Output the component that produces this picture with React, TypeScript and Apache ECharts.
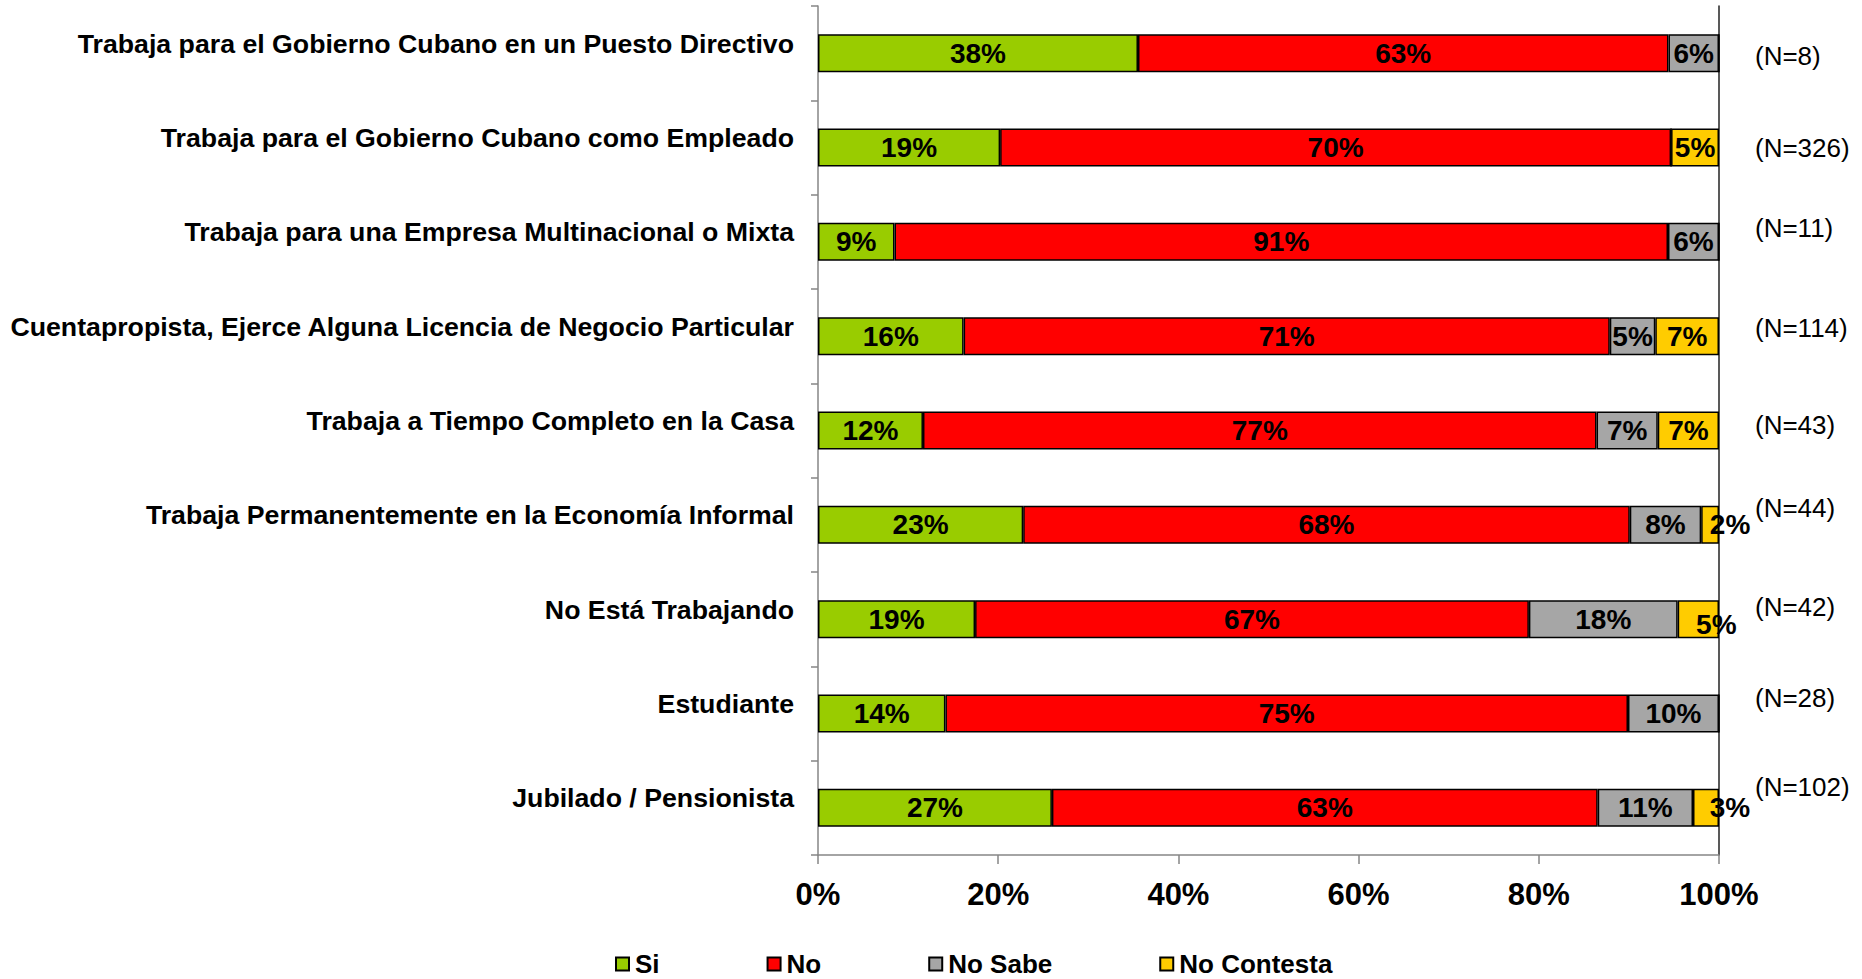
import React, { useEffect, useRef } from "react";
import * as echarts from "echarts";

const categories = [
  "Trabaja para el Gobierno Cubano en un Puesto Directivo",
  "Trabaja para el Gobierno Cubano como Empleado",
  "Trabaja para una Empresa Multinacional o Mixta",
  "Cuentapropista, Ejerce Alguna Licencia de Negocio Particular",
  "Trabaja a Tiempo Completo en la Casa",
  "Trabaja Permanentemente en la Economía Informal",
  "No Está Trabajando",
  "Estudiante",
  "Jubilado / Pensionista",
];

const seriesNames = ["Si", "No", "No Sabe", "No Contesta"];
const si = [38, 19, 9, 16, 12, 23, 19, 14, 27];
const no = [63, 70, 91, 71, 77, 68, 67, 75, 63];
const noSabe = [6, 0, 6, 5, 7, 8, 18, 10, 11];
const noContesta = [0, 5, 0, 7, 7, 2, 5, 0, 3];
const nLabels = ["(N=8)", "(N=326)", "(N=11)", "(N=114)", "(N=43)", "(N=44)", "(N=42)", "(N=28)", "(N=102)"];
const xTickValues = { min: 0, max: 100, interval: 20 };

// layout-only tweaks
const colors = ["#99CC00", "#FF0000", "#A6A6A6", "#FFCC00"];
const nLabelShift = [3, 0, -14, -8, -6, -17, -12, -16, -21];
const labelNudge: Record<string, [number, number]> = {
  "3-5": [20, 0],
  "3-6": [18, 5],
  "3-8": [24, 0],
};

const FONT = "'Liberation Sans', Arial, sans-serif";

export default function App() {
  const ref = useRef<HTMLDivElement>(null);

  useEffect(() => {
    if (!ref.current) return;
    const chart = echarts.init(ref.current, undefined, { renderer: "svg" });
    const raw = [si, no, noSabe, noContesta];
    const totals = categories.map((_, i) => raw.reduce((s, arr) => s + arr[i], 0));

    const series = raw.map((arr, si_) => ({
      name: seriesNames[si_],
      type: "bar",
      stack: "total",
      barWidth: 38,
      itemStyle: { color: colors[si_], borderColor: "#000", borderWidth: 1.5 },
      label: {
        show: true,
        position: "inside",
        color: "#000",
        fontFamily: FONT,
        fontWeight: "bold",
        fontSize: 28,
        formatter: (p: any) => (arr[p.dataIndex] ? `${arr[p.dataIndex]}%` : ""),
      },
      data: arr.map((v, i) => {
        const item: any = { value: (v / totals[i]) * 100 };
        const nudge = labelNudge[`${si_}-${i}`];
        if (nudge) item.label = { offset: nudge };
        return item;
      }),
    }));

    const rich: any = {};
    nLabelShift.forEach((s, i) => {
      rich["n" + i] = {
        fontFamily: FONT,
        fontSize: 26,
        color: "#000",
        padding: s < 0 ? [0, 0, -2 * s, 0] : [2 * s, 0, 0, 0],
      };
    });

    chart.setOption({
      animation: false,
      backgroundColor: "#fff",
      grid: { left: 818, right: 143, top: 6, bottom: 124, containLabel: false },
      legend: {
        data: seriesNames,
        left: 615,
        top: 950,
        padding: 0,
        itemWidth: 13,
        itemHeight: 13,
        itemGap: 107,
        icon: "rect",
        textStyle: {
          fontFamily: FONT,
          fontSize: 26,
          lineHeight: 28,
          fontWeight: "bold",
          color: "#000",
          padding: [0, 0, 0, 1],
        },
      },
      xAxis: {
        type: "value",
        min: xTickValues.min,
        max: xTickValues.max,
        interval: xTickValues.interval,
        axisLine: { show: true, lineStyle: { color: "#868686", width: 1.5 } },
        axisTick: { show: true, length: 9, lineStyle: { color: "#868686", width: 1.5 } },
        splitLine: { show: false },
        axisLabel: {
          formatter: "{value}%",
          fontFamily: FONT,
          fontSize: 31,
          fontWeight: "bold",
          color: "#000",
          margin: 24,
        },
      },
      yAxis: [
        {
          type: "category",
          data: categories,
          inverse: true,
          axisLine: { show: true, lineStyle: { color: "#868686", width: 1.5 } },
          axisTick: { show: true, length: 7, lineStyle: { color: "#868686", width: 1.5 } },
          axisLabel: {
            margin: 24,
            formatter: (v: string) => `{c|${v}}`,
            rich: {
              c: {
                fontFamily: FONT,
                fontSize: 26.7,
                fontWeight: "bold",
                color: "#000",
                padding: [0, 0, 19, 0],
              },
            },
          },
        },
        {
          type: "category",
          data: nLabels,
          inverse: true,
          position: "right",
          axisLine: { show: true, lineStyle: { color: "#222", width: 1.5 } },
          axisTick: { show: false },
          axisLabel: {
            margin: 36,
            formatter: (v: string, i: number) => `{n${i}|${v}}`,
            rich,
          },
        },
      ],
      series,
    });

    return () => chart.dispose();
  }, []);

  return (
    <div
      ref={ref}
      style={{ position: "fixed", left: 0, top: 0, width: 1862, height: 979, background: "#fff" }}
    />
  );
}
